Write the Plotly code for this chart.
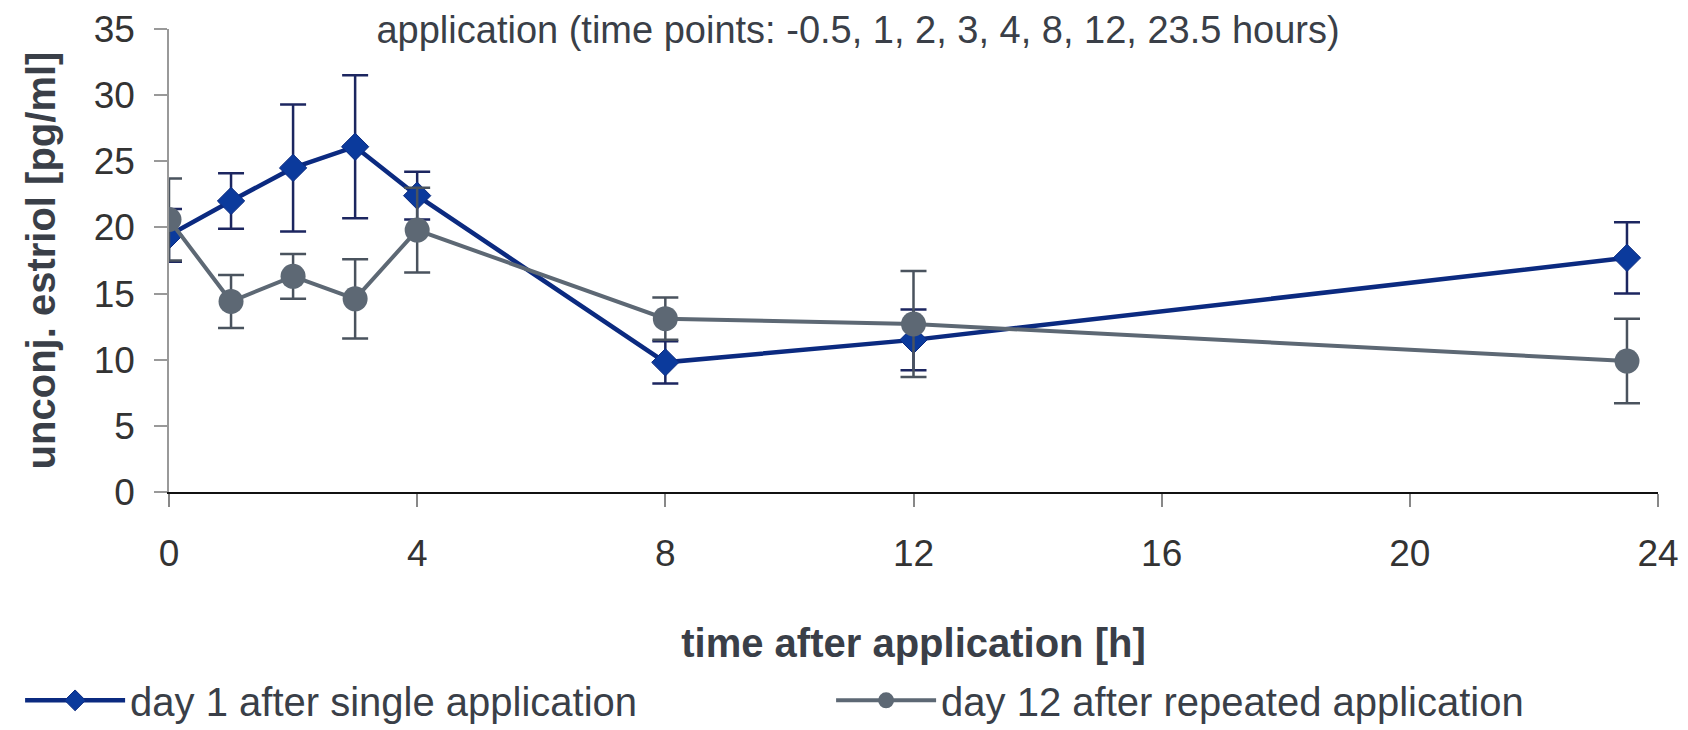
import plotly.graph_objects as go

time_h = [0, 1, 2, 3, 4, 8, 12, 23.5]
day1 = [19.4, 22.0, 24.5, 26.1, 22.4, 9.8, 11.5, 17.7]
day1_err = [2.0, 2.1, 4.8, 5.4, 1.8, 1.6, 2.3, 2.7]
day12 = [20.6, 14.4, 16.3, 14.6, 19.8, 13.1, 12.7, 9.9]
day12_err = [3.1, 2.0, 1.7, 3.0, 3.2, 1.6, 4.0, 3.2]

name1 = "day 1 after single application"
name12 = "day 12 after repeated application"
title_text = "application (time points: -0.5, 1, 2, 3, 4, 8, 12, 23.5 hours)"
x_title = "time after application [h]"
y_title = "unconj. estriol [pg/ml]"
x_ticks = [0, 4, 8, 12, 16, 20, 24]
y_ticks = [0, 5, 10, 15, 20, 25, 30, 35]

FONT = "Liberation Sans, Arial, sans-serif"
W, H = 1680, 722  # page body has an 8px margin

fig = go.Figure()
fig.add_trace(go.Scatter(
    x=time_h, y=day1, name=name1, mode="lines+markers",
    line=dict(color="#0b2a80", width=4.5),
    marker=dict(symbol="diamond", size=21, color="#0b3a9c", line=dict(color="#0b2a80", width=1)),
    error_y=dict(type="data", array=day1_err, visible=True, color="#1c2660", thickness=2.5, width=13),
))
fig.add_trace(go.Scatter(
    x=time_h, y=day12, name=name12, mode="lines+markers",
    line=dict(color="#5d6874", width=4),
    marker=dict(symbol="circle", size=25, color="#5d6874"),
    error_y=dict(type="data", array=day12_err, visible=True, color="#4a535e", thickness=2.5, width=13),
))

fig.update_layout(
    width=W, height=H,
    paper_bgcolor="white", plot_bgcolor="white",
    margin=dict(l=161, r=30, t=21, b=238, autoexpand=False),
    font=dict(family=FONT, color="#333333"),
    title=dict(text=title_text, x=0.506, xanchor="center", y=1 - 22 / H, yanchor="middle",
               font=dict(size=38, color="#3a3f48", family=FONT)),
    showlegend=True,
    legend=dict(orientation="h", x=-0.1, xanchor="left", y=-0.45, yanchor="middle",
                font=dict(size=40, color="#3a3f48", family=FONT),
                entrywidth=696, itemwidth=100, bgcolor="rgba(0,0,0,0)"),
    xaxis=dict(range=[0, 24], tickvals=x_ticks, showgrid=False, zeroline=False,
               showline=True, linecolor="#111111", linewidth=2, automargin=False,
               ticks="outside", ticklen=13, tickcolor="#888888", tickwidth=1.5,
               tickfont=dict(size=37, color="#333333", family=FONT),
               ticklabelstandoff=15,
               title=dict(text="<b>" + x_title + "</b>", standoff=56,
                          font=dict(size=40, color="#3a3f48", family=FONT))),
    yaxis=dict(range=[0, 35], tickvals=y_ticks, showgrid=False, zeroline=False,
               showline=True, linecolor="#999999", linewidth=1.5, automargin=False,
               ticks="outside", ticklen=13, tickcolor="#999999", tickwidth=1.5,
               tickfont=dict(size=37, color="#333333", family=FONT),
               ticklabelstandoff=12,
               title=dict(text="<b>" + y_title + "</b>", standoff=26,
                          font=dict(size=40, color="#3a3f48", family=FONT))),
)

fig.write_html("out.html")
